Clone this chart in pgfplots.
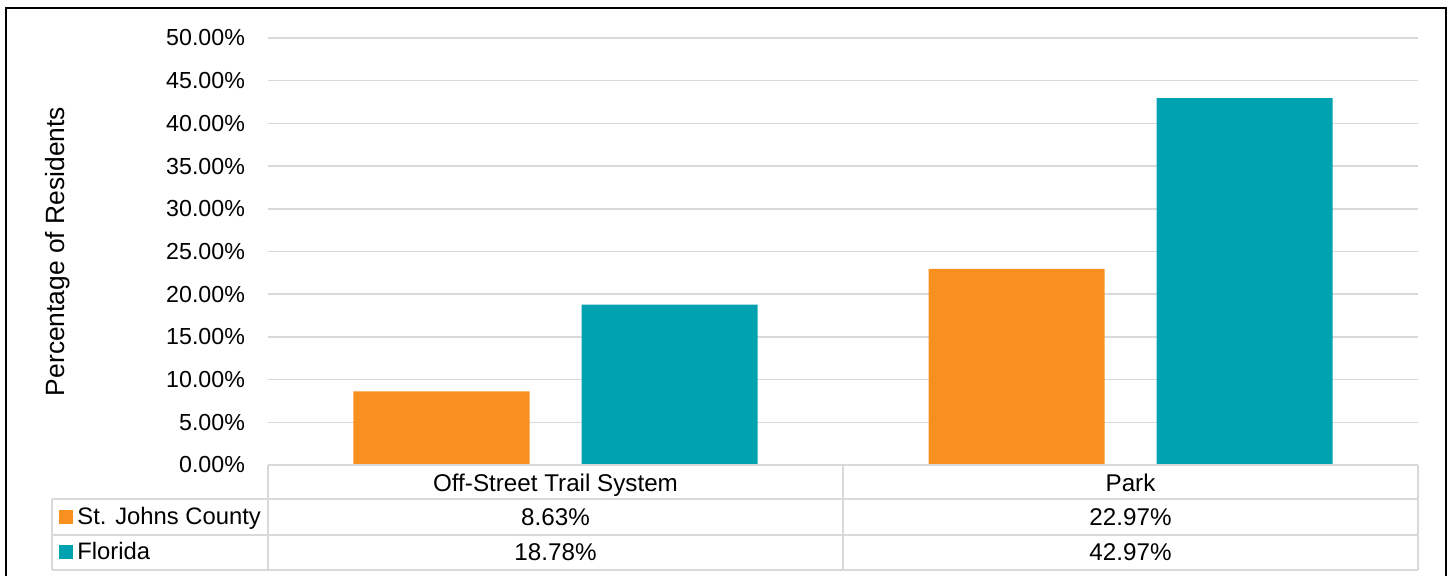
\documentclass[border=0pt]{standalone}
\usepackage{fontspec}
\setmainfont{Liberation Sans}
\usepackage{pgfplots}
\pgfplotsset{compat=1.18}
\definecolor{cOrange}{HTML}{F7901E}
\definecolor{cTeal}{HTML}{00A2AF}
\definecolor{cGrid}{HTML}{D9D9D9}
\begin{document}
\begin{tikzpicture}[x=0.5pt,y=0.5pt]
% pixel (px,py) -> ((px-268), (465-py)) in 0.5pt units
\useasboundingbox (-268,-111) rectangle (1182,465);
\begin{axis}[
  at={(0pt,0pt)}, anchor=south west,
  scale only axis, width=575pt, height=213.5pt,
  xmin=-0.5, xmax=1.5, ymin=0, ymax=50,
  axis line style={draw=none},
  ytick={0,5,...,50},
  xtick=\empty,
  ymajorgrids, grid style={cGrid, line width=0.75pt},
  major tick length=0pt,
  /pgf/number format/assume math mode=true,
  yticklabel={\pgfmathprintnumber[fixed,fixed zerofill,precision=2]{\tick}\%},
  yticklabel style={font=\fontsize{11.6}{13}\selectfont, anchor=east, xshift=-8pt},
  ylabel={Percentage of Residents},
  every axis y label/.style={at={(axis description cs:-0.1826,0.5)}, rotate=90, anchor=center, font=\fontsize{13.2}{15}\selectfont},
  clip=false,
]
\addplot[ybar, bar width=88pt, bar shift=-57pt, fill=cOrange, draw=none] coordinates {(0,8.63) (1,22.97)};
\addplot[ybar, bar width=88pt, bar shift=57pt, fill=cTeal, draw=none] coordinates {(0,18.78) (1,42.97)};
% data table text
\tikzset{tbl/.style={font=\fontsize{12.1}{14}\selectfont, text height=8.5pt, text depth=2.3pt, inner sep=0pt}}
\node[tbl] at (axis cs:0,0) [yshift=-10pt] {Off-Street Trail System};
\node[tbl] at (axis cs:1,0) [yshift=-10pt] {Park};
\node[tbl] at (axis cs:0,0) [yshift=-27pt] {8.63\%};
\node[tbl] at (axis cs:1,0) [yshift=-27pt] {22.97\%};
\node[tbl] at (axis cs:0,0) [yshift=-44.5pt] {18.78\%};
\node[tbl] at (axis cs:1,0) [yshift=-44.5pt] {42.97\%};
\end{axis}
% table grid
\begin{scope}[cGrid, line width=1pt]
\draw (0,0) -- (1150,0);
\draw (-216,-34) -- (1150,-34);
\draw (-216,-70) -- (1150,-70);
\draw (-216,-105) -- (1150,-105);
\draw (0,0) -- (0,-105);
\draw (575,0) -- (575,-105);
\draw (1150,0) -- (1150,-105);
\draw (-216,-34) -- (-216,-105);
\end{scope}
% legend keys and row labels
\fill[cOrange] (-209,-45) rectangle (-195,-59);
\node[anchor=west, font=\fontsize{11.9}{14}\selectfont, text height=8.4pt, text depth=2.3pt, inner sep=0pt] at (-191,-53) {St. Johns County};
\fill[cTeal] (-209,-80) rectangle (-195,-94);
\node[anchor=west, font=\fontsize{11.9}{14}\selectfont, text height=8.4pt, text depth=2.3pt, inner sep=0pt] at (-191,-88) {Florida};
% outer frame
\draw[black, line width=1.2pt] (-262,-111) -- (-262,457) -- (1178,457) -- (1178,-111);
\end{tikzpicture}
\end{document}
